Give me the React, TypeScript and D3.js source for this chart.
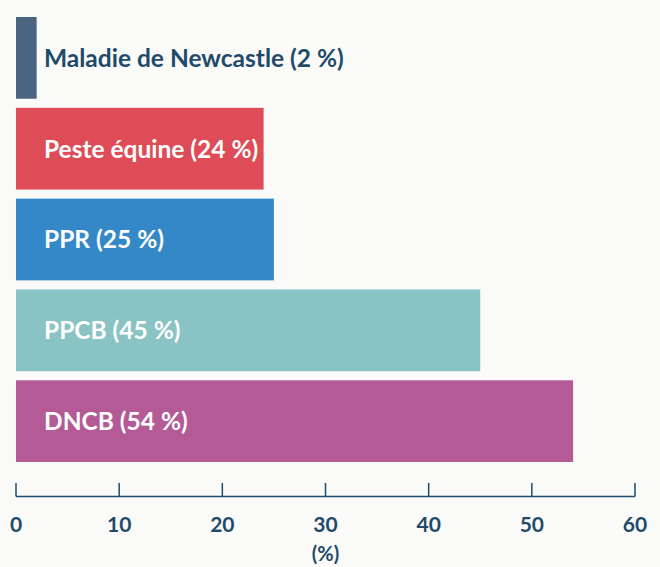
import React from "react";
import * as d3 from "d3";

const categories = ["Maladie de Newcastle", "Peste équine", "PPR", "PPCB", "DNCB"];
const values = [2, 24, 25, 45, 54];
const colors = ["#4a6482", "#de4c58", "#3588c8", "#8ac3c4", "#b45a96"];
const tickValues = [0, 10, 20, 30, 40, 50, 60];
const axisTitle = "(%)";

const W = 660;
const H = 567;
const FONT = "Lato, 'Open Sans', sans-serif";
const DARK = "#1f4a6a";

export default function App() {
  const x = d3.scaleLinear().domain([0, 60]).range([16, 635]);
  const y = d3.scaleBand<string>().domain(categories).range([17, 462]).paddingInner(0.1).paddingOuter(0);
  const axisY = 496.5;
  return (
    <svg width={W} height={H} style={{ position: "absolute", left: 0, top: 0, background: "#fafaf8" }}>
      <rect x={0} y={0} width={W} height={H} fill="#fafaf8" />
      {categories.map((c, i) => {
        const y0 = y(c)!;
        const bw = y.bandwidth();
        const inside = x(values[i]) - x(0) > 200;
        return (
          <g key={c}>
            <rect x={x(0)} y={y0} width={x(values[i]) - x(0)} height={bw} fill={colors[i]} />
            <text
              x={44}
              y={y0 + bw / 2}
              dy="0.36em"
              fontFamily={FONT}
              fontWeight={700}
              fontSize={24.5}
              fill={inside ? "#ffffff" : DARK}
            >
              {`${c} (${values[i]} %)`}
            </text>
          </g>
        );
      })}
      <line x1={x(0)} x2={x(60)} y1={axisY} y2={axisY} stroke={DARK} strokeWidth={1.5} />
      {tickValues.map((t) => (
        <g key={t}>
          <line x1={x(t)} x2={x(t)} y1={483} y2={axisY} stroke={DARK} strokeWidth={1.5} />
          <text x={x(t)} y={524} dy="0.36em" textAnchor="middle" fontFamily={FONT} fontWeight={700} fontSize={21} fill={DARK}>
            {t}
          </text>
        </g>
      ))}
      <text x={(x(0) + x(60)) / 2} y={561} textAnchor="middle" fontFamily={FONT} fontWeight={700} fontSize={20} fill={DARK}>
        {axisTitle}
      </text>
    </svg>
  );
}
